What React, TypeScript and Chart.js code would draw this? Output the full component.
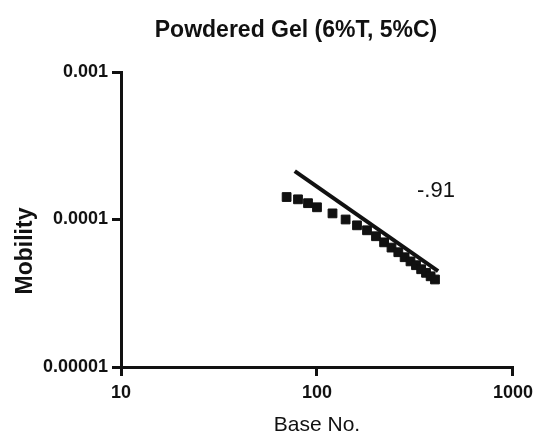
import React, { useEffect, useRef } from "react";
import { Chart, registerables } from "chart.js";

Chart.register(...registerables);

const baseNo = [70, 80, 90, 100, 120, 140, 160, 180, 200, 220, 240, 260, 280, 300, 320, 340, 360, 380, 400];
const mobility = [1.42e-4, 1.37e-4, 1.29e-4, 1.21e-4, 1.1e-4, 1.0e-4, 9.13e-5, 8.45e-5, 7.7e-5, 7.0e-5, 6.45e-5, 6.0e-5, 5.55e-5, 5.2e-5, 4.9e-5, 4.6e-5, 4.35e-5, 4.12e-5, 3.92e-5];
const fitX = [77, 415];
const fitY = [2.13e-4, 4.46e-5];
const xTicks = [10, 100, 1000];
const xTickLabels = ["10", "100", "1000"];
const yTicks = [1e-5, 1e-4, 1e-3];
const yTickLabels = ["0.00001", "0.0001", "0.001"];
const titleText = "Powdered Gel (6%T, 5%C)";
const xTitle = "Base No.";
const yTitle = "Mobility";
const slopeLabel = "-.91";

const FONT = "'Liberation Sans', Arial, sans-serif";
const INK = "#111111";

const textPlugin = {
  id: "texts",
  afterDraw(chart: any) {
    const ctx = chart.ctx;
    ctx.save();
    ctx.fillStyle = INK;
    ctx.textAlign = "center";
    ctx.textBaseline = "middle";
    ctx.font = `bold 23px ${FONT}`;
    ctx.fillText(titleText, 296, 31);
    ctx.font = `21px ${FONT}`;
    ctx.fillText(xTitle, 317, 425);
    ctx.font = `22px ${FONT}`;
    ctx.fillText(slopeLabel, 436, 191);
    ctx.translate(26, 251);
    ctx.rotate(-Math.PI / 2);
    ctx.font = `bold 23px ${FONT}`;
    ctx.fillText(yTitle, 0, 0);
    ctx.restore();
  },
};

export default function App() {
  const ref = useRef<HTMLCanvasElement>(null);
  useEffect(() => {
    document.body.style.margin = "0";
    const chart = new Chart(ref.current!, {
      type: "scatter",
      data: {
        datasets: [
          {
            type: "line",
            data: fitX.map((x, i) => ({ x, y: fitY[i] })),
            borderColor: INK,
            borderWidth: 4,
            pointRadius: 0,
            fill: false,
          } as any,
          {
            data: baseNo.map((x, i) => ({ x, y: mobility[i] })),
            pointStyle: "rect",
            pointRadius: 6.2,
            pointBackgroundColor: INK,
            pointBorderColor: INK,
            pointBorderWidth: 1,
          },
        ],
      },
      options: {
        responsive: false,
        animation: false,
        layout: { padding: { left: 0, top: 72, right: 26, bottom: 0 } },
        plugins: { legend: { display: false }, tooltip: { enabled: false }, title: { display: false } },
        scales: {
          x: {
            type: "logarithmic",
            min: 10,
            max: 1000,
            afterBuildTicks: (s: any) => {
              s.ticks = xTicks.map((v) => ({ value: v }));
            },
            afterFit: (s: any) => {
              s.height = 73;
            },
            ticks: {
              autoSkip: false,
              maxRotation: 0,
              padding: 6,
              color: INK,
              font: { family: FONT, size: 18, weight: "bold" },
              callback: (v: any) => {
                const i = xTicks.indexOf(Number(v));
                return i >= 0 ? xTickLabels[i] : "";
              },
            },
            grid: { drawOnChartArea: false, drawTicks: true, tickLength: 9, lineWidth: 3, color: INK },
            border: { display: true, width: 3, color: INK },
          },
          y: {
            type: "logarithmic",
            min: 1e-5,
            max: 1e-3,
            afterBuildTicks: (s: any) => {
              s.ticks = yTicks.map((v) => ({ value: v }));
            },
            afterFit: (s: any) => {
              s.width = 121;
            },
            ticks: {
              autoSkip: false,
              padding: 4,
              color: INK,
              font: { family: FONT, size: 18, weight: "bold" },
              callback: (v: any) => {
                const n = Number(v);
                const i = yTicks.findIndex((t) => Math.abs(t - n) / t < 1e-6);
                return i >= 0 ? yTickLabels[i] : "";
              },
            },
            grid: { drawOnChartArea: false, drawTicks: true, tickLength: 9, lineWidth: 3, color: INK },
            border: { display: true, width: 3, color: INK },
          },
        },
      },
      plugins: [textPlugin],
    });
    return () => chart.destroy();
  }, []);
  return <canvas ref={ref} width={539} height={440} style={{ display: "block" }} />;
}
